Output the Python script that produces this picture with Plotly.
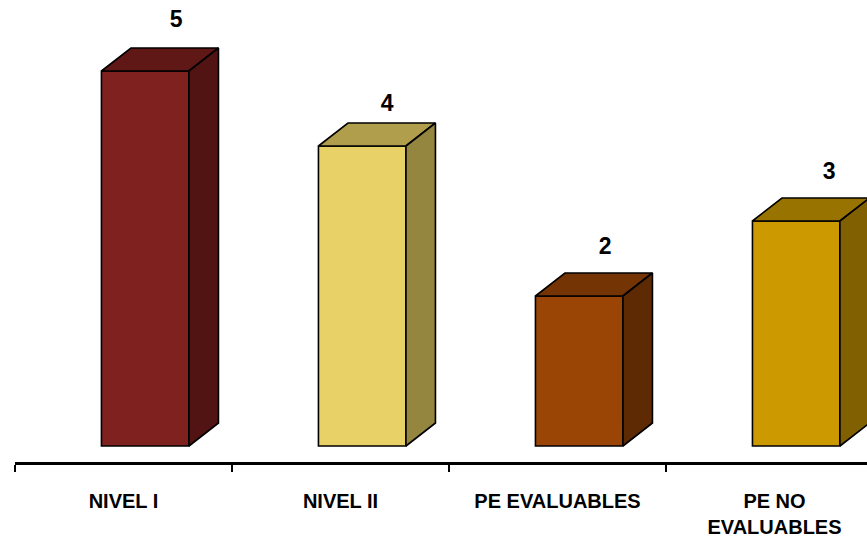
import plotly.graph_objects as go

categories = ["NIVEL I", "NIVEL II", "PE EVALUABLES", "PE NO<br>EVALUABLES"]
values = [5, 4, 2, 3]
front_colors = ["#7E211F", "#E8D166", "#9A4505", "#CC9900"]
top_colors = ["#5F1816", "#B09E4D", "#753404", "#997300"]
side_colors = ["#521412", "#94853F", "#5E2A03", "#806000"]
label_shift_x_px = [31, 25, 26, 33]
label_shift_y_px = [15, 6, 13, 13]

W, H = 867, 539
LEFT, BOTTOM = 15, 77
PX_X = 217.0
PX_Y = 75.0
x_min = -0.5
x_max = x_min + (W - LEFT) / PX_X
y_min = -16 / PX_Y
y_max = y_min + (H - BOTTOM) / PX_Y

shift = 21.7 / PX_X
bar_w = 87.5 / PX_X
dx = 29.5 / PX_X
dy = 23 / PX_Y
line = dict(color="#000000", width=1.6)

fig = go.Figure()
xs = list(range(len(values)))
fig.add_trace(go.Bar(
    x=[i + shift for i in xs], y=values, width=bar_w,
    marker=dict(color=front_colors, line=line), hoverinfo="skip", showlegend=False))

for i, v in zip(xs, values):
    l = i + shift - bar_w / 2
    r = i + shift + bar_w / 2
    fig.add_trace(go.Scatter(
        x=[l, l + dx, r + dx, r, l], y=[v, v + dy, v + dy, v, v],
        mode="lines", fill="toself", fillcolor=top_colors[i], line=line,
        hoverinfo="skip", showlegend=False))
    fig.add_trace(go.Scatter(
        x=[r, r + dx, r + dx, r, r], y=[0, dy, v + dy, v, 0],
        mode="lines", fill="toself", fillcolor=side_colors[i], line=line,
        hoverinfo="skip", showlegend=False))

fig.add_trace(go.Scatter(
    x=[i + shift + label_shift_x_px[i] / PX_X for i in xs],
    y=[v + dy + label_shift_y_px[i] / PX_Y for i, v in zip(xs, values)],
    text=[str(v) for v in values], mode="text", textposition="top center",
    textfont=dict(family="Liberation Sans", size=23, color="#000000", weight="bold"),
    hoverinfo="skip", showlegend=False, cliponaxis=False))

fig.update_layout(
    width=W, height=H,
    margin=dict(l=LEFT, r=0, t=0, b=BOTTOM, pad=0),
    paper_bgcolor="#FFFFFF", plot_bgcolor="#FFFFFF",
    showlegend=False,
    xaxis=dict(
        range=[x_min, x_max], showgrid=False, zeroline=False, automargin=False,
        showline=True, linecolor="#000000", linewidth=2.5,
        tickmode="array", tickvals=xs, ticktext=categories, ticks="",
        ticklabelstandoff=19,
        tickfont=dict(family="Liberation Sans", size=20, color="#000000", weight="bold"),
        minor=dict(tickmode="array", tickvals=[-0.5, 0.5, 1.5, 2.5],
                   ticks="outside", ticklen=7, tickwidth=2, tickcolor="#000000", showgrid=False),
    ),
    yaxis=dict(range=[y_min, y_max], visible=False),
)

fig.write_html("out.html", config=dict(displayModeBar=False),
               post_script="document.body.style.margin='0';")
